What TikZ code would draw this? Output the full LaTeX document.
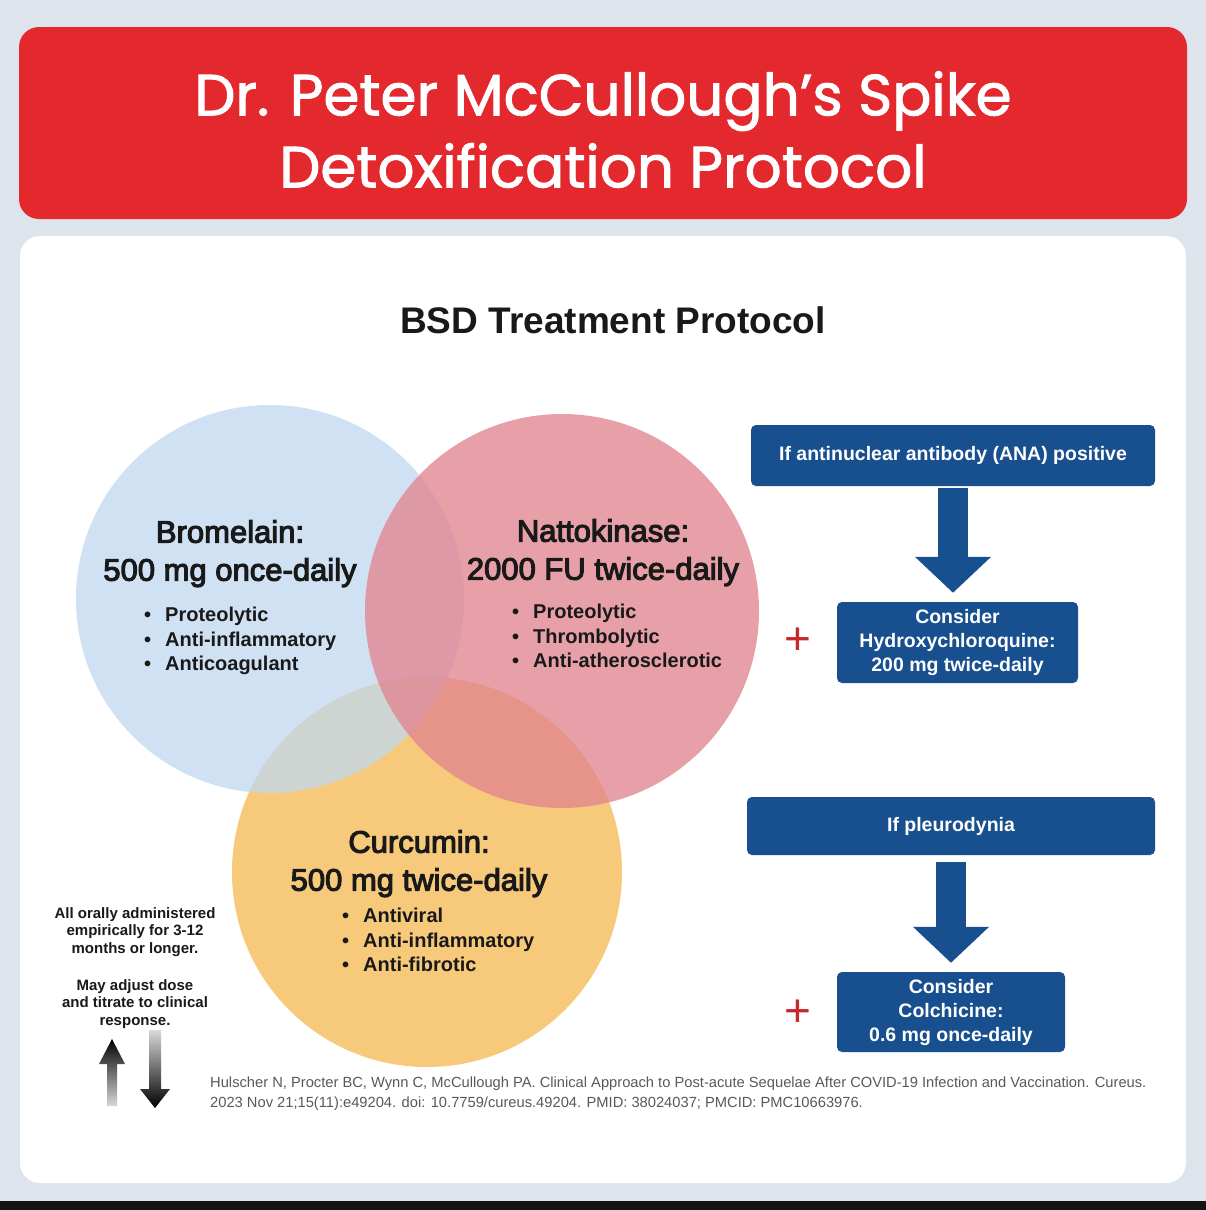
\documentclass[tikz,border=0pt]{standalone}
\usepackage{fontspec}
\setmainfont{Liberation Sans}
\newfontfamily\headfont[FakeBold=1.6]{Poppins}
\newfontfamily\medfont[FakeBold=3.5]{Liberation Sans}
\usetikzlibrary{arrows.meta}

\definecolor{pagebg}{RGB}{222,228,235}
\definecolor{hdrred}{RGB}{227,40,46}
\definecolor{bromblue}{RGB}{191,216,239}
\definecolor{nattopink}{RGB}{226,132,142}
\definecolor{curcorange}{RGB}{247,201,122}
\definecolor{boxblue}{RGB}{24,79,143}
\definecolor{plusred}{RGB}{200,40,45}
\definecolor{inktext}{RGB}{25,25,25}

\tikzset{
    boxstyle/.style={fill=boxblue, rounded corners=5pt, text=white, inner sep=0pt,
        align=center, font=\bfseries\fontsize{19.5}{24}\selectfont},
    flowarrow/.style={boxblue, line width=30pt, -{Triangle[width=74pt,length=36pt]}},
    circtitle/.style={text=inktext, inner sep=0pt, align=center,
        font=\medfont\fontsize{31}{38}\selectfont},
    bulletlist/.style={text=inktext, inner sep=0pt, align=left,
        font=\bfseries\fontsize{20}{24.5}\selectfont},
    plussign/.style={text=plusred, inner sep=0pt, font=\fontsize{46}{46}\selectfont},
    notetext/.style={text=inktext, inner sep=0pt, align=center,
        font=\bfseries\fontsize{15}{17.5}\selectfont},
    citetext/.style={text=black!65, inner sep=0pt, align=left,
        font=\fontsize{14.7}{20}\selectfont}
}
\newcommand{\bul}{\makebox[21pt][l]{\textbullet}}

\begin{document}
\begin{tikzpicture}[x=1pt, y=-1pt]
    \fill [pagebg] (0,0) rectangle (1206,1210);
    \fill [black!92] (0,1201) rectangle (1206,1210);
    \fill [hdrred, rounded corners=20pt] (19,27) rectangle (1187,219);
    \fill [white, rounded corners=20pt] (20,236) rectangle (1186,1183);

    \node [anchor=north, text=white, align=center, inner sep=0pt,
        font=\headfont\fontsize{58}{72}\selectfont] (header) at (603,71)
        {Dr. Peter McCullough’s Spike\\Detoxification Protocol};
    \node [anchor=base, text=inktext, font=\bfseries\fontsize{37}{44}\selectfont] (title) at (613,333) {BSD Treatment Protocol};

    % venn circles
    \fill [curcorange] (427,872) circle (195);
    \fill [bromblue, opacity=.75] (270,599) circle (194);
    \fill [nattopink, opacity=.77] (562,611) circle (197);

    \node [circtitle, anchor=north] (bromtitle) at (230,520) {Bromelain:\\500 mg once-daily};
    \node [bulletlist, anchor=north west] (bromlist) at (144,607) {\bul Proteolytic\\\bul Anti-inflammatory\\\bul Anticoagulant};

    \node [circtitle, anchor=north] (nattotitle) at (603,519) {Nattokinase:\\2000 FU twice-daily};
    \node [bulletlist, anchor=north west] (nattolist) at (512,604) {\bul Proteolytic\\\bul Thrombolytic\\\bul Anti-atherosclerotic};

    \node [circtitle, anchor=north] (curctitle) at (419,830) {Curcumin:\\500 mg twice-daily};
    \node [bulletlist, anchor=north west] (curclist) at (342,908) {\bul Antiviral\\\bul Anti-inflammatory\\\bul Anti-fibrotic};

    % add-on boxes
    \node [boxstyle, minimum width=404pt, minimum height=61pt] (ana) at (953,455.5) {If antinuclear antibody (ANA) positive};
    \node [boxstyle, minimum width=241pt, minimum height=81pt] (hcq) at (957.5,642.5) {Consider\\Hydroxychloroquine:\\200 mg twice-daily};
    \node [boxstyle, minimum width=408pt, minimum height=58pt] (pleuro) at (951,826) {If pleurodynia};
    \node [boxstyle, minimum width=228pt, minimum height=80pt] (colch) at (951,1012) {Consider\\Colchicine:\\0.6 mg once-daily};

    \draw [flowarrow, shorten <=2pt, shorten >=9pt] (ana.south) -- (ana.south |- hcq.north);
    \draw [flowarrow, shorten <=7pt, shorten >=9pt] (pleuro.south) -- (pleuro.south |- colch.north);

    \node [plussign] (plusA) at (798,641) {+};
    \node [plussign] (plusB) at (798,1013) {+};

    % dosing notes
    \node [notetext, anchor=north] (noteA) at (135,907) {All orally administered\\empirically for 3-12\\months or longer.};
    \node [notetext, anchor=north] (noteB) at (135,979) {May adjust dose\\and titrate to clinical\\response.};

    \shade [top color=black, middle color=black, bottom color=black!15] (112,1039) -- (125,1064) -- (117,1064) -- (117,1106) -- (107,1106) -- (107,1064) -- (99,1064) -- cycle;
    \shade [top color=black!15, middle color=black, bottom color=black] (149,1030) -- (161,1030) -- (161,1089) -- (170,1089) -- (155,1108) -- (140,1089) -- (149,1089) -- cycle;

    \node [citetext, anchor=north west] (cite) at (210,1077) {Hulscher N, Procter BC, Wynn C, McCullough PA. Clinical Approach to Post-acute Sequelae After COVID-19 Infection and Vaccination. Cureus.\\2023 Nov 21;15(11):e49204. doi: 10.7759/cureus.49204. PMID: 38024037; PMCID: PMC10663976.};
\end{tikzpicture}
\end{document}
